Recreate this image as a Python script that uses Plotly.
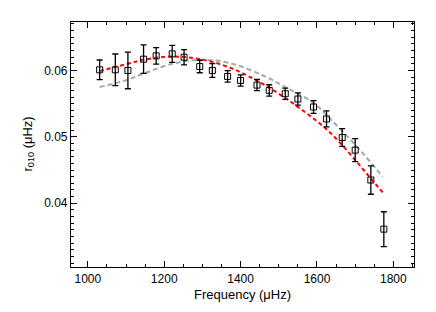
import plotly.graph_objects as go

# Observed r010 ratios
freq = [1031, 1072, 1105, 1146, 1179, 1221, 1252, 1293, 1326, 1366, 1400,
        1443, 1475, 1517, 1550, 1591, 1625, 1666, 1700, 1741, 1775]
r010 = [0.0601, 0.0601, 0.0600, 0.0617, 0.0622, 0.0625, 0.0620, 0.0606, 0.0600,
        0.0591, 0.0585, 0.0578, 0.0570, 0.0565, 0.0557, 0.0545, 0.0527, 0.0499,
        0.0480, 0.0435, 0.0361]
r010_err = [0.00148, 0.00238, 0.00275, 0.00215, 0.00125, 0.00127, 0.00115, 0.00094,
            0.00103, 0.00087, 0.00085, 0.00085, 0.00085, 0.00085, 0.00092, 0.00097,
            0.00120, 0.00133, 0.00172, 0.00214, 0.00262]

# Model curves
red_freq = [1031, 1104, 1145, 1221, 1295, 1373, 1460, 1548, 1635, 1740, 1774]
red_val = [0.0599, 0.0610, 0.0616, 0.0621, 0.0617, 0.0604, 0.0579, 0.0546, 0.0506, 0.0438, 0.0415]

gray_freq = [1031, 1104, 1145, 1221, 1295, 1373, 1460, 1517, 1591, 1635, 1705, 1772]
gray_val = [0.0575, 0.0586, 0.0595, 0.0610, 0.0616, 0.0611, 0.0592, 0.0575, 0.0551, 0.0527, 0.0485, 0.0440]

x_ticks = [1000, 1200, 1400, 1600, 1800]
y_ticks = [0.04, 0.05, 0.06]

FONT = "Liberation Sans, Arial, sans-serif"

fig = go.Figure()
fig.add_trace(go.Scatter(x=gray_freq, y=gray_val, mode="lines", line_shape="spline",
                         line=dict(color="#a8a8a8", width=2, dash="5px,3px"), showlegend=False))
fig.add_trace(go.Scatter(x=red_freq, y=red_val, mode="lines", line_shape="spline",
                         line=dict(color="#ff0000", width=2, dash="4px,3px"), showlegend=False))
fig.add_trace(go.Scatter(x=freq, y=r010, mode="markers",
                         marker=dict(symbol="square-open", size=6, color="black", line=dict(width=1, color="black")),
                         error_y=dict(type="data", array=r010_err, color="black", thickness=1.3, width=3),
                         showlegend=False))

axis_common = dict(showline=True, linecolor="black", linewidth=1.2, mirror="ticks",
                   ticks="inside", ticklen=6, tickwidth=1, tickcolor="black",
                   showgrid=False, zeroline=False, automargin=False,
                   tickfont=dict(family=FONT, size=12, color="black"))

fig.update_xaxes(range=[956, 1854], tickvals=x_ticks,
                 ticktext=[str(v) for v in x_ticks],
                 minor=dict(ticks="inside", dtick=50, ticklen=3, tickcolor="black"),
                 **axis_common)
fig.update_yaxes(range=[0.0304, 0.0673], tickvals=y_ticks,
                 ticktext=["0.04", "0.05", "0.06"],
                 minor=dict(ticks="inside", dtick=0.001, ticklen=3, tickcolor="black"),
                 **axis_common)

fig.add_annotation(text="Frequency (μHz)", xref="paper", yref="paper", x=0.5, y=0,
                   yshift=-27, xanchor="center", yanchor="middle", showarrow=False,
                   font=dict(family=FONT, size=13, color="black"))
fig.add_annotation(text="r<sub>010</sub> (μHz)", xref="paper", yref="paper", x=0, y=0.5,
                   xshift=-43, xanchor="center", yanchor="middle", showarrow=False, textangle=-90,
                   font=dict(family=FONT, size=13, color="black"))

fig.update_layout(width=436, height=312, margin=dict(l=71, r=22, t=22, b=45),
                  plot_bgcolor="white", paper_bgcolor="white")

fig.write_html("out.html", config={"displayModeBar": False},
               post_script="document.body.style.margin='0';document.body.style.overflow='hidden';")
